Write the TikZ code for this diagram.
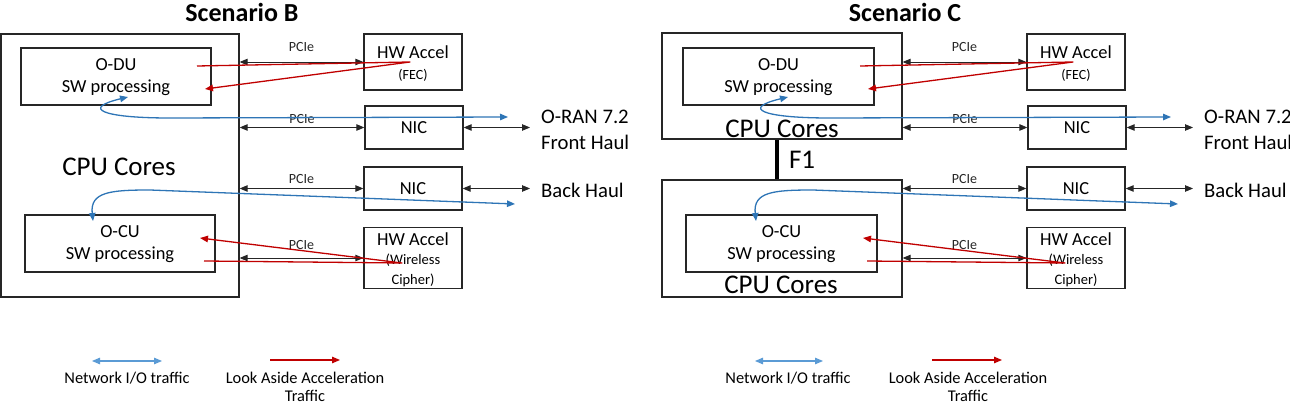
\documentclass[tikz,border=0pt]{standalone}
\usepackage{fontspec}
\setmainfont{Carlito}
\usetikzlibrary{arrows.meta}
\definecolor{accred}{HTML}{C00000}
\definecolor{netblue}{HTML}{2E75B6}
\definecolor{legblue}{HTML}{5B9BD5}
\begin{document}
\begin{tikzpicture}[x=1pt,y=-1pt,>={Triangle[length=8pt,width=6.5pt]},
  box/.style={draw=black!85,line width=1.3pt,inner sep=0pt,align=center,font=\fontsize{18.4}{22}\selectfont},
  twolines/.style={text height=37pt,text depth=4pt},
  pcie/.style={<->,black!85,line width=0.9pt},
  net/.style={<->,netblue,line width=1.3pt},
  acc/.style={->,accred,line width=1.3pt,line join=round},
  pcielbl/.style={font=\fontsize{14}{16}\selectfont},
  cpulbl/.style={font=\fontsize{27}{30}\selectfont},
  haul/.style={font=\fontsize{20.7}{26}\selectfont,inner sep=0pt,anchor=west,align=left},
  scen/.style={font=\fontsize{26}{30}\selectfont\bfseries},
  legtext/.style={font=\fontsize{16.4}{18}\selectfont,align=center}]
\useasboundingbox (0,0) rectangle (1290,403);
% Scenario B
\node[scen] (b-title) at (242,12) {Scenario B};
\node[box,minimum width=238,minimum height=263] (b-cpu) at (120,165.5) {};
\node[cpulbl] (b-cpulbl) at (119,167) {CPU Cores};
\node[box,twolines,minimum width=190,minimum height=57] (b-du) at (116,76.5) {O-DU\\SW processing};
\node[box,twolines,minimum width=190,minimum height=57] (b-cu) at (120,243.5) {O-CU\\SW processing};
\node[box,text height=39.5pt,text depth=3.5pt,minimum width=98,minimum height=56] (b-fec) at (413,62) {HW Accel\\[-1pt]\fontsize{14}{16}\selectfont(FEC)};
\node[box,minimum width=98,minimum height=43] (b-nic1) at (414,127.5) {NIC};
\node[box,minimum width=98,minimum height=43] (b-nic2) at (413,188.5) {NIC};
\node[box,text height=57pt,text depth=3.5pt,minimum width=98,minimum height=58] (b-cph) at (413,258) {HW Accel\\[-3pt]\fontsize{14.5}{16}\selectfont(Wireless\\[-2pt]\fontsize{14.5}{16}\selectfont Cipher)};
\node[haul] (b-fh) at (541,129.5) {O-RAN 7.2\\Front Haul};
\node[haul] (b-bh) at (541,190) {Back Haul};
\draw[pcie] (b-cpu.east |- b-fec.west) -- (b-fec.west) node[pcielbl,midway,yshift=15pt] {PCIe};
\draw[pcie] (b-cpu.east |- b-nic1.west) -- (b-nic1.west) node[pcielbl,midway,yshift=8pt] {PCIe};
\draw[pcie] (b-cpu.east |- b-nic2.west) -- (b-nic2.west) node[pcielbl,midway,yshift=9pt] {PCIe};
\draw[pcie] (b-cpu.east |- b-cph.west) -- (b-cph.west) node[pcielbl,midway,yshift=13pt] {PCIe};
\draw[pcie] (b-nic1.east) -- ([xshift=-11pt]b-fh.west |- b-nic1.east);
\draw[pcie] (b-nic2.east) -- ([xshift=-11pt]b-bh.west |- b-nic2.east);
\coordinate (b-a1) at (197,66);
\coordinate (b-a2) at (410,62);
\coordinate (b-a3) at (205,89);
\draw[acc] (b-a1) -- (b-a2) -- (b-a3);
\coordinate (b-a4) at (204,261);
\coordinate (b-a5) at (402,263);
\coordinate (b-a6) at (200,238);
\draw[acc] (b-a4) -- (b-a5) -- (b-a6);
\coordinate (b-n1) at (128,97);
\coordinate (b-n2) at (508,117);
\draw[net] (b-n1) .. controls (82,108) and (100,118) .. (170,118) -- (b-n2);
\coordinate (b-n3) at (93,221);
\coordinate (b-n4) at (515,204);
\draw[net] (b-n3) .. controls (90,192) and (110,190) .. (150,190) -- (b-n4);
\coordinate (b-l1) at (92,361);
\coordinate (b-l2) at (162,361);
\draw[<->,legblue,line width=1.1pt] (b-l1) -- (b-l2);
\node[legtext] (b-ltxt1) at (127,378) {Network I/O traffic};
\coordinate (b-l3) at (270,360);
\coordinate (b-l4) at (340,360);
\draw[->,accred,line width=1.3pt] (b-l3) -- (b-l4);
\node[legtext] (b-ltxt2) at (305,386.5) {Look Aside Acceleration\\Traffic};
% Scenario C
\node[scen] (c-title) at (905,12) {Scenario C};
\node[box,minimum width=240,minimum height=106] (c-cpu) at (782,86) {};
\node[cpulbl] (c-cpulbl) at (782,129) {CPU Cores};
\node[box,minimum width=240,minimum height=117] (c-cpulo) at (782,238.5) {};
\node[cpulbl] (c-cpulbl2) at (781,285) {CPU Cores};
\draw[line width=4pt] ([xshift=-5pt]c-cpu.south) -- ([xshift=-5pt]c-cpulo.north) node[cpulbl,midway,anchor=west,inner sep=0pt,xshift=10pt] {F1};
\node[box,twolines,minimum width=191,minimum height=57] (c-du) at (778.5,76.5) {O-DU\\SW processing};
\node[box,twolines,minimum width=191,minimum height=57] (c-cu) at (781.5,243.5) {O-CU\\SW processing};
\node[box,text height=39.5pt,text depth=3.5pt,minimum width=98,minimum height=56] (c-fec) at (1076,62) {HW Accel\\[-1pt]\fontsize{14}{16}\selectfont(FEC)};
\node[box,minimum width=98,minimum height=43] (c-nic1) at (1077,127.5) {NIC};
\node[box,minimum width=98,minimum height=43] (c-nic2) at (1076,188.5) {NIC};
\node[box,text height=57pt,text depth=3.5pt,minimum width=98,minimum height=58] (c-cph) at (1076,258) {HW Accel\\[-3pt]\fontsize{14.5}{16}\selectfont(Wireless\\[-2pt]\fontsize{14.5}{16}\selectfont Cipher)};
\node[haul] (c-fh) at (1204,129.5) {O-RAN 7.2\\Front Haul};
\node[haul] (c-bh) at (1204,190) {Back Haul};
\draw[pcie] (c-cpu.east |- c-fec.west) -- (c-fec.west) node[pcielbl,midway,yshift=15pt] {PCIe};
\draw[pcie] (c-cpu.east |- c-nic1.west) -- (c-nic1.west) node[pcielbl,midway,yshift=8pt] {PCIe};
\draw[pcie] (c-cpulo.east |- c-nic2.west) -- (c-nic2.west) node[pcielbl,midway,yshift=9pt] {PCIe};
\draw[pcie] (c-cpulo.east |- c-cph.west) -- (c-cph.west) node[pcielbl,midway,yshift=13pt] {PCIe};
\draw[pcie] (c-nic1.east) -- ([xshift=-11pt]c-fh.west |- c-nic1.east);
\draw[pcie] (c-nic2.east) -- ([xshift=-11pt]c-bh.west |- c-nic2.east);
\coordinate (c-a1) at (860,66);
\coordinate (c-a2) at (1073,62);
\coordinate (c-a3) at (868,89);
\draw[acc] (c-a1) -- (c-a2) -- (c-a3);
\coordinate (c-a4) at (867,261);
\coordinate (c-a5) at (1065,263);
\coordinate (c-a6) at (863,238);
\draw[acc] (c-a4) -- (c-a5) -- (c-a6);
\coordinate (c-n1) at (788,97);
\coordinate (c-n2) at (1171,117);
\draw[net] (c-n1) .. controls (742,108) and (760,118) .. (830,118) -- (c-n2);
\coordinate (c-n3) at (756,221);
\coordinate (c-n4) at (1178,204);
\draw[net] (c-n3) .. controls (753,192) and (773,190) .. (813,190) -- (c-n4);
\coordinate (c-l1) at (755,361);
\coordinate (c-l2) at (823,361);
\draw[<->,legblue,line width=1.1pt] (c-l1) -- (c-l2);
\node[legtext] (c-ltxt1) at (788,378) {Network I/O traffic};
\coordinate (c-l3) at (932,360);
\coordinate (c-l4) at (1002,360);
\draw[->,accred,line width=1.3pt] (c-l3) -- (c-l4);
\node[legtext] (c-ltxt2) at (968,386.5) {Look Aside Acceleration\\Traffic};
\end{tikzpicture}
\end{document}
